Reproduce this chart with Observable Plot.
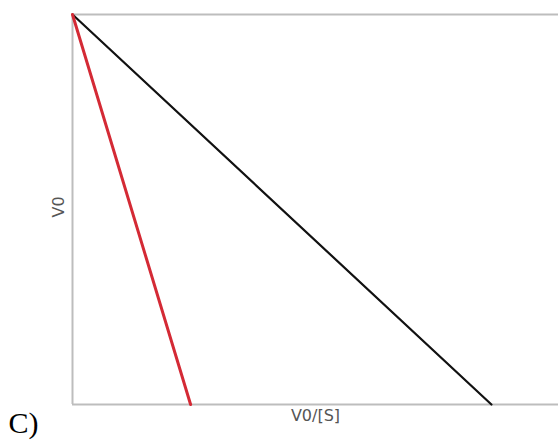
<!DOCTYPE html>
<html>
<head>
<meta charset="utf-8">
<script src="https://cdn.jsdelivr.net/npm/d3@7"></script>
<script src="https://cdn.jsdelivr.net/npm/@observablehq/plot@0.6"></script>
<style>
  html, body { margin: 0; padding: 0; background: #fff; }
</style>
</head>
<body>
<div id="chart"></div>
<script>
// Eadie–Hofstee style lines: V0 vs V0/[S]
const redX = [0, 0.243];
const redY = [1, 0];
const blackX = [0, 0.862];
const blackY = [1, 0];
const xLabel = "V0/[S]";
const yLabel = "V0";
const panelLabel = "C)";

const red = redX.map((x, i) => ({x, y: redY[i]}));
const black = blackX.map((x, i) => ({x, y: blackY[i]}));

const chart = Plot.plot({
  width: 558,
  height: 441,
  marginLeft: 72,
  marginRight: 0,
  marginTop: 14,
  marginBottom: 37,
  x: {domain: [0, 1], axis: null},
  y: {domain: [0, 1], axis: null},
  style: {background: "#fff"},
  marks: [
    Plot.ruleY([0, 1], {stroke: "#bdbdbd", strokeWidth: 2}),
    Plot.ruleX([0], {stroke: "#bdbdbd", strokeWidth: 2}),
    Plot.line(black, {x: "x", y: "y", stroke: "#111", strokeWidth: 2.2}),
    Plot.line(red, {x: "x", y: "y", stroke: "#d42a35", strokeWidth: 3}),
    Plot.text([xLabel], {frameAnchor: "bottom", dy: 16, text: d => d, fontSize: 16, fill: "#555", fontFamily: "DejaVu Sans"}),
    Plot.text([yLabel], {frameAnchor: "left", dx: -14, dy: 8, rotate: -90, text: d => d, fontSize: 16, fill: "#555", fontFamily: "DejaVu Sans"}),
    Plot.text([panelLabel], {frameAnchor: "bottom-left", dx: -64, dy: 28, textAnchor: "start", text: d => d, fontSize: 30, fill: "#000", fontFamily: "Liberation Serif"})
  ]
});
document.getElementById("chart").appendChild(chart);
</script>
</body>
</html>
